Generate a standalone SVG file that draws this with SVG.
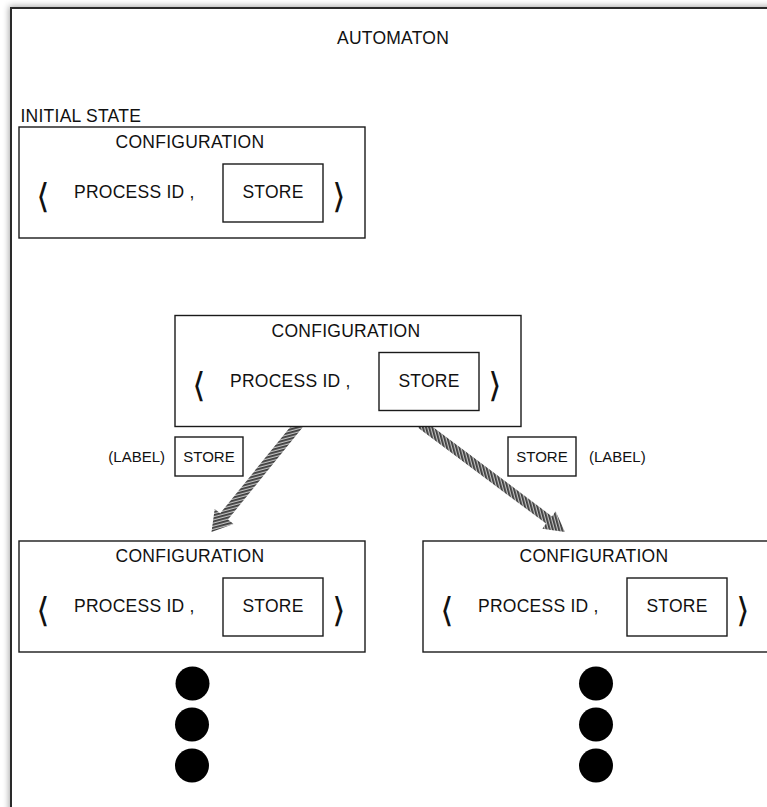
<svg xmlns="http://www.w3.org/2000/svg" width="767" height="807" viewBox="0 0 767 807">
  <defs>
    <filter id="shadow" x="-5%" y="-5%" width="110%" height="110%">
      <feDropShadow dx="-1" dy="-1" stdDeviation="3" flood-color="#000" flood-opacity="0.35"/>
    </filter>
    <pattern id="hatchH" width="6" height="3" patternUnits="userSpaceOnUse" patternTransform="rotate(-15)">
      <rect width="6" height="3" fill="#c4c4c4"/>
      <rect width="6" height="1.8" fill="#3c3c3c"/>
    </pattern>
    <pattern id="hatchV" width="3" height="6" patternUnits="userSpaceOnUse" patternTransform="rotate(-15)">
      <rect width="3" height="6" fill="#c4c4c4"/>
      <rect width="1.8" height="6" fill="#3c3c3c"/>
    </pattern>
  </defs>
  <style>
    text { font-family: "Liberation Sans", Arial, Helvetica, sans-serif; fill: #111; }
    .t { font-size: 17.5px; letter-spacing: 0.25px; }
    .s { font-size: 15px; }
    .mid { text-anchor: middle; }
    .box { fill: #fff; stroke: #1a1a1a; stroke-width: 1.4; }
    .br { font-family: "DejaVu Sans", sans-serif; font-size: 34px; text-anchor: middle; }
    .dot { fill: #000; }
  </style>

  <rect width="767" height="807" fill="#fff"/>
  <g id="automaton">
    <rect x="11" y="8" width="800" height="850" fill="#fff" stroke="#2a2a2a" stroke-width="2" filter="url(#shadow)"/>
    <text class="t" x="337" y="44">AUTOMATON</text>
  </g>

  <g id="connectors">
    <polygon id="arrow-left" points="295.1,420.9 302.9,427.1 228,519.5 233.5,524 211.5,532 214.7,508.9 220.2,513.3" fill="url(#hatchH)"/>
    <polygon id="arrow-right" points="423.9,420.2 418.1,427.8 546,523.6 542.4,528.8 565,532 555.6,511.2 552,516.4" fill="url(#hatchV)"/>
  </g>

  <text id="initial-state-label" class="t" x="20.5" y="121.5">INITIAL STATE</text>

  <g id="config-initial" transform="translate(19,127)">
    <rect class="box" width="346" height="111"/>
    <text class="t mid" x="171" y="21">CONFIGURATION</text>
    <text class="br" x="24" y="81">⟨</text>
    <text class="t" x="55" y="71">PROCESS ID ,</text>
    <rect class="box" x="204" y="37" width="100" height="58"/>
    <text class="t mid" x="254" y="71">STORE</text>
    <text class="br" x="320" y="81">⟩</text>
  </g>

  <g id="config-middle" transform="translate(175,315.5)">
    <rect class="box" width="346" height="111"/>
    <text class="t mid" x="171" y="21">CONFIGURATION</text>
    <text class="br" x="24" y="81">⟨</text>
    <text class="t" x="55" y="71">PROCESS ID ,</text>
    <rect class="box" x="204" y="37" width="100" height="58"/>
    <text class="t mid" x="254" y="71">STORE</text>
    <text class="br" x="320" y="81">⟩</text>
  </g>

  <g id="label-left">
    <text class="s" x="108.3" y="462.3">(LABEL)</text>
    <rect class="box" x="175" y="437" width="68" height="39"/>
    <text class="s mid" x="209" y="462.3">STORE</text>
  </g>

  <g id="label-right">
    <rect class="box" x="508" y="437" width="68" height="39"/>
    <text class="s mid" x="542" y="462.3">STORE</text>
    <text class="s" x="589" y="462.3">(LABEL)</text>
  </g>

  <g id="config-left" transform="translate(19,541)">
    <rect class="box" width="346" height="111"/>
    <text class="t mid" x="171" y="21">CONFIGURATION</text>
    <text class="br" x="24" y="81">⟨</text>
    <text class="t" x="55" y="71">PROCESS ID ,</text>
    <rect class="box" x="204" y="37" width="100" height="58"/>
    <text class="t mid" x="254" y="71">STORE</text>
    <text class="br" x="320" y="81">⟩</text>
  </g>

  <g id="config-right" transform="translate(423,541)">
    <rect class="box" width="346" height="111"/>
    <text class="t mid" x="171" y="21">CONFIGURATION</text>
    <text class="br" x="24" y="81">⟨</text>
    <text class="t" x="55" y="71">PROCESS ID ,</text>
    <rect class="box" x="204" y="37" width="100" height="58"/>
    <text class="t mid" x="254" y="71">STORE</text>
    <text class="br" x="320" y="81">⟩</text>
  </g>

  <g id="ellipsis-left">
    <circle class="dot" cx="192.5" cy="683.5" r="17"/>
    <circle class="dot" cx="192" cy="724.5" r="17"/>
    <circle class="dot" cx="192" cy="765.5" r="17"/>
  </g>
  <g id="ellipsis-right">
    <circle class="dot" cx="596" cy="683.5" r="17"/>
    <circle class="dot" cx="596" cy="724.5" r="17"/>
    <circle class="dot" cx="596" cy="765.5" r="17"/>
  </g>
</svg>
